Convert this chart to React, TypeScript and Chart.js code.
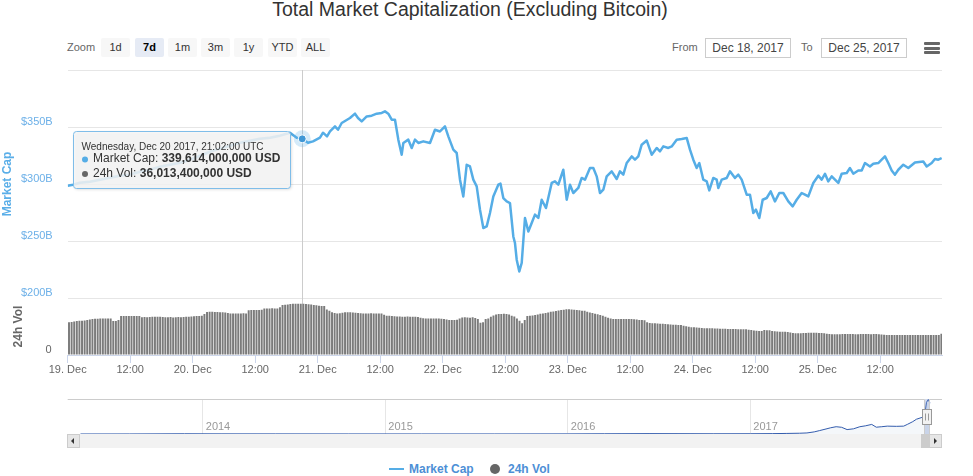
import React, { useEffect, useRef } from 'react';
import { Chart, registerables } from 'chart.js';

Chart.register(...registerables);

const FONT = '"Liberation Sans", Arial, Helvetica, sans-serif';
const LINE_COLOR = '#55ade6';
const AXIS_BLUE = '#6cb0e8';
const VOL_COLOR = '#7b7b7b';
const VOL_DOT = '#666666';

// ---- Main series: hours since 19 Dec 2017 00:00 UTC, market cap in billions USD
const MC_HOURS = [
  0, 1.02, 2.36, 4.28, 6.2, 8.12, 10.04, 11.96, 13.88, 15.8, 17.72, 19.64, 21.56, 23.48, 25.4, 27.32, 29.24,
  31.16, 33.08, 35.0, 36.92, 38.84, 40.76, 42.68, 43.97, 45.03, 46.14, 47.1, 48.44, 49.02, 49.79, 50.36, 51.32,
  51.9, 52.61, 54.2, 55.16, 55.74, 56.45, 57.41, 58.37, 59.33, 60.29, 60.92, 61.56, 62.21, 62.84, 63.48, 64.13,
  64.44, 65.4, 66.05, 66.68, 67.32, 68.28, 69.56, 70.52, 71.48, 72.44, 73.08, 74.04, 74.69, 75.32, 75.96, 76.61,
  77.24, 77.88, 78.53, 79.16, 79.8, 80.45, 81.08, 81.72, 82.68, 83.1, 83.64, 84.29, 84.92, 85.56, 85.88, 86.21,
  86.71, 87.17, 87.8, 88.44, 89.09, 89.72, 90.36, 91.01, 91.83, 92.93, 93.56, 94.2, 95.16, 95.81, 96.44, 97.08,
  98.04, 98.69, 99.32, 100.28, 100.92, 101.57, 102.2, 102.84, 103.49, 104.45, 105.41, 106.04, 106.68, 107.33,
  108.29, 108.92, 109.56, 110.21, 111.17, 112.13, 113.09, 113.72, 114.36, 115.32, 115.97, 116.93, 117.89, 118.85,
  119.48, 120.12, 120.77, 121.27, 122.04, 122.69, 123.19, 123.96, 124.61, 124.92, 125.57, 126.53, 127.16, 128.12,
  128.76, 129.41, 130.37, 131.0, 131.64, 132.15, 132.79, 133.44, 134.21, 134.98, 135.8, 136.63, 137.4, 138.36,
  139.2, 139.97, 140.93, 141.56, 142.2, 143.16, 144.12, 144.77, 145.4, 146.04, 146.69, 147.32, 147.96, 148.61,
  149.57, 150.2, 150.84, 151.8, 152.45, 153.08, 154.04, 154.68, 155.64, 156.29, 156.92, 157.56, 158.21, 158.84,
  159.48, 160.44, 161.4, 162.68, 164.28, 164.93, 165.89, 166.52, 167.16, 167.81,
];
const MC_VALUES = [
  298.5, 299.4, 301.1, 302.0, 303.8, 305.5, 307.3, 308.2, 310.8, 312.5, 315.2, 316.9, 318.7, 321.3, 324.8, 328.3, 331.0,
  333.6, 336.2, 338.0, 339.7, 340.6, 342.4, 345.0, 340.6, 339.6, 336.2, 337.4, 340.6, 345.0, 341.8, 346.1, 350.5,
  347.6, 353.5, 357.9, 361.7, 357.9, 354.9, 359.3, 359.9, 361.7, 362.3, 363.7, 361.7, 356.4, 356.4, 338.9, 325.7,
  336.0, 338.9, 331.6, 338.9, 336.0, 337.4, 336.0, 347.6, 346.1, 350.5, 341.8, 330.1, 327.2, 303.8, 289.1, 316.9,
  315.4, 303.8, 297.9, 277.5, 261.4, 262.8, 274.6, 289.1, 299.4, 300.3, 287.7, 284.7, 283.3, 254.0, 248.2, 233.6,
  223.3, 230.7, 270.2, 258.4, 265.8, 273.1, 270.2, 286.2, 278.9, 300.9, 302.3, 299.4, 312.5, 286.2, 299.4, 292.1,
  296.5, 305.3, 303.8, 314.0, 314.0, 306.7, 292.1, 295.0, 306.7, 311.1, 304.4, 311.1, 308.2, 318.4,
  324.2, 321.3, 324.2, 334.5, 338.2, 325.7, 331.6, 328.6, 333.0, 331.6, 333.0, 338.9, 339.5, 340.4,
  330.1, 321.3, 314.0, 318.4, 303.8, 302.3, 294.4, 305.3, 303.8, 296.5, 303.8, 305.3, 311.1, 305.3,
  308.2, 303.8, 290.6, 290.6, 274.6, 277.5, 270.2, 286.2, 287.7, 293.5, 284.7, 292.1, 292.1, 284.7,
  280.4, 286.2, 292.1, 290.6, 289.1, 300.9, 307.3, 303.8, 309.0, 302.3, 306.7, 303.8, 300.9, 309.0,
  309.6, 314.0, 309.0, 311.9, 311.9, 318.4, 315.4, 317.8, 318.4, 321.3, 324.2, 318.4, 311.9, 308.2,
  312.5, 316.9, 314.0, 318.9, 319.8, 315.4, 318.4, 321.9, 321.3, 322.8,
];

// ---- 24h volume in billions USD, one bar every 30 minutes from 19 Dec 00:00 UTC
const VOL_STEP_HOURS = 0.5;
const VOL_VALUES = [
  22.9, 23.2, 23.5, 23.8, 24.0, 24.1, 24.2, 24.6, 25.0, 25.3, 25.4, 25.5,
  25.6, 25.6, 25.7, 25.7, 25.6, 23.9, 23.9, 24.5, 27.4, 27.4, 27.4, 27.3,
  27.4, 27.3, 27.4, 27.4, 26.5, 26.6, 26.5, 26.7, 26.9, 26.9, 26.8, 26.9,
  26.7, 26.5, 26.5, 26.6, 26.4, 26.5, 26.7, 26.5, 26.6, 26.8, 26.9, 27.0,
  27.2, 27.3, 27.4, 27.5, 28.8, 30.2, 30.4, 30.4, 30.2, 30.1, 30.0, 30.0,
  29.8, 29.4, 29.2, 29.2, 29.1, 29.2, 29.2, 29.3, 29.2, 31.4, 31.6, 31.6,
  31.6, 31.6, 31.7, 32.6, 32.7, 32.7, 32.8, 32.7, 32.7, 33.5, 35.1, 35.3,
  35.5, 35.8, 35.9, 36.0, 35.9, 35.9, 36.0, 35.8, 35.6, 35.4, 35.1, 34.9,
  34.6, 34.4, 34.3, 32.0, 31.1, 30.0, 29.4, 29.2, 29.3, 29.6, 30.0, 30.0,
  30.0, 29.9, 29.6, 29.4, 29.3, 29.2, 29.2, 29.2, 29.3, 29.2, 29.2, 29.2,
  29.1, 28.2, 27.6, 27.6, 27.4, 27.2, 27.0, 27.1, 26.9, 26.9, 27.0, 26.8,
  26.9, 26.8, 26.6, 26.2, 25.8, 25.7, 25.7, 25.6, 25.7, 25.7, 25.6, 25.5,
  25.2, 24.9, 24.6, 24.6, 24.5, 24.7, 25.6, 26.3, 26.5, 26.4, 26.2, 26.5,
  26.0, 25.3, 22.7, 22.9, 25.2, 25.7, 26.8, 27.8, 28.5, 28.8, 28.8, 29.0,
  28.8, 28.5, 27.6, 27.0, 25.7, 24.0, 22.2, 24.5, 27.4, 27.6, 27.8, 28.1,
  28.5, 28.9, 29.2, 29.4, 29.8, 30.4, 30.6, 30.8, 31.2, 31.5, 31.8, 32.1,
  32.1, 31.9, 31.7, 31.5, 31.4, 31.1, 31.0, 30.3, 29.8, 29.5, 29.0, 28.6,
  28.1, 27.5, 26.8, 26.2, 25.6, 25.3, 25.3, 25.3, 25.2, 25.3, 25.3, 25.2,
  25.3, 25.1, 24.9, 24.6, 24.6, 24.3, 23.0, 22.4, 22.2, 22.2, 22.1, 22.0,
  21.9, 21.8, 21.6, 21.4, 21.3, 21.2, 21.1, 21.0, 20.5, 20.2, 19.8, 19.5,
  19.4, 19.3, 19.1, 18.9, 18.8, 18.7, 18.7, 18.7, 18.6, 18.6, 18.5, 18.5,
  18.4, 18.3, 18.3, 18.2, 18.2, 18.1, 18.1, 18.0, 18.0, 17.8, 17.5, 17.2,
  17.0, 16.8, 16.8, 17.5, 17.4, 17.3, 16.9, 16.6, 16.5, 16.4, 16.4, 16.3,
  16.1, 15.8, 15.5, 15.3, 15.2, 15.2, 15.4, 15.5, 15.6, 15.7, 15.7, 15.6,
  15.5, 15.4, 15.3, 15.0, 14.8, 14.6, 14.5, 14.5, 14.6, 14.7, 14.7, 14.7,
  14.7, 14.7, 14.6, 14.6, 14.7, 14.7, 14.7, 14.7, 14.6, 14.7, 14.7, 14.6,
  14.4, 14.2, 14.0, 14.0, 14.0, 14.0, 14.0, 14.0, 14.0, 14.0, 14.0, 14.0,
  14.0, 14.0, 14.0, 14.0, 14.0, 14.0, 14.0, 14.0, 14.0, 14.0, 14.1, 14.9,
];

// ---- Axes
const X_MAX_HOURS = 167.87;
const X_TICK_HOURS = [0, 12, 24, 36, 48, 60, 72, 84, 96, 108, 120, 132, 144, 156];
const X_TICK_LABELS = ['19. Dec', '12:00', '20. Dec', '12:00', '21. Dec', '12:00', '22. Dec', '12:00', '23. Dec', '12:00', '24. Dec', '12:00', '25. Dec', '12:00'];
const MC_TICKS = [200, 250, 300, 350, 400];
const MC_TICK_LABELS = ['$200B', '$250B', '$300B', '$350B', ''];
const VOL_TICKS = [0, 40];
const VOL_TICK_LABELS = ['0', ''];

// ---- Hovered point shown in the tooltip
const HOVER_HOUR = 45.03;
const HOVER_HEADER = 'Wednesday, Dec 20 2017, 21:02:00 UTC';
const HOVER_MC = 339614000000;
const HOVER_VOL = 36013400000;

// ---- Navigator (whole history), decimal years vs billions USD
const NAV_YEARS = [
  2013.33, 2013.6, 2013.9, 2014.1, 2014.4, 2014.8, 2015.2, 2015.6, 2016.0, 2016.2, 2016.45, 2016.8, 2017.0,
  2017.12, 2017.2, 2017.27, 2017.31, 2017.35, 2017.38, 2017.42, 2017.44, 2017.47, 2017.5, 2017.53, 2017.565,
  2017.6, 2017.63, 2017.665, 2017.69, 2017.72, 2017.75, 2017.8, 2017.84, 2017.86, 2017.89, 2017.91, 2017.94,
  2017.95, 2017.96, 2017.965, 2017.975, 2017.984,
];
const NAV_VALUES = [
  0.3, 0.5, 2.5, 1.5, 1.2, 0.8, 0.6, 0.6, 1.2, 2.5, 4, 2.5, 2.8,
  4, 6, 8, 11, 22, 36, 55, 65, 76, 70, 46, 54,
  76, 85, 100, 71, 76, 82, 80, 82, 100, 129, 154, 173,
  179, 260, 330, 360, 322,
];
const NAV_MIN_YEAR = 2013.26;
const NAV_MAX_YEAR = 2018.05;
const NAV_TICK_YEARS = [2014, 2015, 2016, 2017];
const NAV_TICK_LABELS = ['2014', '2015', '2016', '2017'];
const NAV_RANGE = [2017.954, 2017.98];

const ZOOM_BUTTONS = ['1d', '7d', '1m', '3m', '1y', 'YTD', 'ALL'];
const ZOOM_SELECTED = '7d';
const FROM_DATE = 'Dec 18, 2017';
const TO_DATE = 'Dec 25, 2017';

function roundRectPath(ctx: CanvasRenderingContext2D, x: number, y: number, w: number, h: number, r: number) {
  ctx.beginPath();
  ctx.moveTo(x + r, y);
  ctx.lineTo(x + w - r, y);
  ctx.arcTo(x + w, y, x + w, y + r, r);
  ctx.lineTo(x + w, y + h - r);
  ctx.arcTo(x + w, y + h, x + w - r, y + h, r);
  ctx.lineTo(x + r, y + h);
  ctx.arcTo(x, y + h, x, y + h - r, r);
  ctx.lineTo(x, y + r);
  ctx.arcTo(x, y, x + r, y, r);
  ctx.closePath();
}

function drawRow(ctx: CanvasRenderingContext2D, x: number, y: number, dot: string, label: string, value: string) {
  ctx.fillStyle = dot;
  ctx.beginPath();
  ctx.arc(x + 11.5, y + 0.5, 3, 0, Math.PI * 2);
  ctx.fill();
  ctx.fillStyle = '#333333';
  ctx.font = `12px ${FONT}`;
  ctx.fillText(label, x + 19.5, y);
  const lw = ctx.measureText(label).width;
  ctx.font = `bold 12px ${FONT}`;
  ctx.fillText(value, x + 19.5 + lw, y);
}

const hoverPlugin = {
  id: 'hoverState',
  beforeDatasetsDraw(chart: any) {
    const { ctx, chartArea, scales } = chart;
    const x = Math.round(scales.x.getPixelForValue(HOVER_HOUR)) + 0.5;
    ctx.save();
    ctx.strokeStyle = '#cccccc';
    ctx.lineWidth = 1;
    ctx.beginPath();
    ctx.moveTo(x, chartArea.top);
    ctx.lineTo(x, chartArea.bottom);
    ctx.stroke();
    ctx.restore();
  },
  afterDraw(chart: any) {
    const { ctx, scales } = chart;
    const px = scales.x.getPixelForValue(HOVER_HOUR);
    const py = scales.y.getPixelForValue(HOVER_MC / 1e9);
    ctx.save();
    ctx.fillStyle = 'rgba(85,173,230,0.25)';
    ctx.beginPath();
    ctx.arc(px, py, 8.5, 0, Math.PI * 2);
    ctx.fill();
    ctx.fillStyle = '#3f97d6';
    ctx.strokeStyle = '#ffffff';
    ctx.lineWidth = 1;
    ctx.beginPath();
    ctx.arc(px, py, 4, 0, Math.PI * 2);
    ctx.fill();
    ctx.stroke();
    const w = 217;
    const h = 57;
    const bx = Math.round(px - 12 - w) + 0.5;
    const by = Math.round(py - 8) + 0.5;
    ctx.shadowColor = 'rgba(0,0,0,0.18)';
    ctx.shadowBlur = 3;
    ctx.shadowOffsetX = 1;
    ctx.shadowOffsetY = 1;
    roundRectPath(ctx, bx, by, w, h, 3);
    ctx.fillStyle = 'rgba(247,247,247,0.85)';
    ctx.fill();
    ctx.shadowColor = 'transparent';
    ctx.strokeStyle = '#7fbde9';
    ctx.lineWidth = 1;
    ctx.stroke();
    ctx.textBaseline = 'middle';
    ctx.textAlign = 'left';
    ctx.fillStyle = '#333333';
    ctx.font = `10px ${FONT}`;
    ctx.fillText(HOVER_HEADER, bx + 8, by + 16);
    drawRow(ctx, bx, by + 27.5, LINE_COLOR, 'Market Cap: ', HOVER_MC.toLocaleString('en-US') + ' USD');
    drawRow(ctx, bx, by + 42, VOL_DOT, '24h Vol: ', HOVER_VOL.toLocaleString('en-US') + ' USD');
    ctx.restore();
  },
};

const navPlugin = {
  id: 'navDecor',
  afterDatasetsDraw(chart: any) {
    const { ctx, chartArea: a, scales } = chart;
    const x0 = scales.x.getPixelForValue(NAV_RANGE[0]);
    const x1 = scales.x.getPixelForValue(NAV_RANGE[1]);
    ctx.save();
    ctx.fillStyle = 'rgba(102,133,194,0.3)';
    ctx.fillRect(x0, a.top, x1 - x0, a.bottom - a.top);
    ctx.strokeStyle = '#cccccc';
    ctx.lineWidth = 1;
    ctx.beginPath();
    ctx.moveTo(a.left, a.top + 0.5);
    ctx.lineTo(Math.round(x0) + 0.5, a.top + 0.5);
    ctx.lineTo(Math.round(x0) + 0.5, a.bottom);
    ctx.moveTo(Math.round(x1) + 0.5, a.bottom);
    ctx.lineTo(Math.round(x1) + 0.5, a.top + 0.5);
    ctx.lineTo(a.right, a.top + 0.5);
    ctx.stroke();
    const mid = (x0 + x1) / 2;
    const hx = Math.round(mid - 4.5) + 0.5;
    const hy = Math.round((a.top + a.bottom) / 2 - 7.5) + 0.5;
    ctx.fillStyle = '#f2f2f2';
    ctx.strokeStyle = '#999999';
    ctx.fillRect(hx, hy, 9, 15);
    ctx.strokeRect(hx, hy, 9, 15);
    ctx.beginPath();
    ctx.moveTo(hx + 3, hy + 4);
    ctx.lineTo(hx + 3, hy + 11);
    ctx.moveTo(hx + 6, hy + 4);
    ctx.lineTo(hx + 6, hy + 11);
    ctx.stroke();
    ctx.restore();
  },
};

function abs(left: number, top: number, width?: number, height?: number): React.CSSProperties {
  const s: React.CSSProperties = { position: 'absolute', left, top };
  if (width !== undefined) s.width = width;
  if (height !== undefined) s.height = height;
  return s;
}

export default function App() {
  const mainRef = useRef<HTMLCanvasElement>(null);
  const navRef = useRef<HTMLCanvasElement>(null);

  useEffect(() => {
    const main = new Chart(mainRef.current as HTMLCanvasElement, {
      type: 'line',
      data: {
        datasets: [
          {
            type: 'line',
            label: 'Market Cap',
            data: MC_HOURS.map((h, i) => ({ x: h, y: MC_VALUES[i] })),
            xAxisID: 'x',
            yAxisID: 'y',
            borderColor: LINE_COLOR,
            borderWidth: 2.5,
            borderJoinStyle: 'round',
            pointRadius: 0,
            pointHoverRadius: 0,
            tension: 0,
            fill: false,
            order: 0,
          } as any,
          {
            type: 'bar',
            label: '24h Vol',
            data: VOL_VALUES.map((v, i) => ({ x: i * VOL_STEP_HOURS + VOL_STEP_HOURS / 2, y: v })),
            xAxisID: 'x',
            yAxisID: 'y1',
            backgroundColor: VOL_COLOR,
            borderWidth: 0,
            barPercentage: 0.75,
            categoryPercentage: 1,
            order: 1,
          } as any,
        ],
      },
      options: {
        responsive: false,
        animation: false,
        devicePixelRatio: 1,
        events: [],
        layout: { padding: { top: 10, left: 0, right: 31, bottom: 0 } },
        plugins: { legend: { display: false }, tooltip: { enabled: false } },
        scales: {
          x: {
            type: 'linear',
            position: 'bottom',
            min: 0,
            max: X_MAX_HOURS,
            offset: false,
            afterBuildTicks: (s: any) => { s.ticks = X_TICK_HOURS.map((v) => ({ value: v })); },
            afterFit: (s: any) => { s.height = 30; },
            ticks: {
              autoSkip: false,
              maxRotation: 0,
              padding: 0,
              color: '#666666',
              font: { family: FONT, size: 11 },
              callback: (_v: any, i: number) => X_TICK_LABELS[i] ?? '',
            },
            grid: { offset: false, drawOnChartArea: false, drawTicks: true, tickLength: 8, color: '#ccd6eb' },
            border: { display: true, color: '#ccd6eb' },
          },
          y: {
            type: 'linear',
            position: 'left',
            stack: 'panes',
            stackWeight: 4,
            weight: 2,
            min: 200,
            max: 400,
            afterBuildTicks: (s: any) => { s.ticks = MC_TICKS.map((v) => ({ value: v })); },
            afterFit: (s: any) => { s.width = 67.7; },
            ticks: {
              color: AXIS_BLUE,
              font: { family: FONT, size: 11 },
              padding: 0,
              labelOffset: -5,
              callback: (_v: any, i: number) => MC_TICK_LABELS[i] ?? '',
            },
            grid: { color: '#e6e6e6', drawTicks: true, tickLength: 15, tickColor: 'rgba(0,0,0,0)' },
            border: { display: false },
            title: {
              display: true,
              text: 'Market Cap',
              color: '#5aaee8',
              font: { family: FONT, size: 12, weight: 'bold' },
              padding: { top: 0, bottom: 0 },
            },
          },
          y1: {
            type: 'linear',
            position: 'left',
            stack: 'panes',
            stackWeight: 1,
            weight: 1,
            min: 0,
            max: 40,
            afterBuildTicks: (s: any) => { s.ticks = VOL_TICKS.map((v) => ({ value: v })); },
            afterFit: (s: any) => { s.width = 67.7; },
            ticks: {
              color: '#666666',
              font: { family: FONT, size: 11 },
              padding: 0,
              labelOffset: -5,
              callback: (_v: any, i: number) => VOL_TICK_LABELS[i] ?? '',
            },
            grid: { color: '#e6e6e6', drawTicks: true, tickLength: 16, tickColor: 'rgba(0,0,0,0)' },
            border: { display: false },
            title: {
              display: true,
              text: '24h Vol',
              color: '#666666',
              font: { family: FONT, size: 12, weight: 'bold' },
              padding: { top: 11, bottom: 0 },
            },
          },
        },
      } as any,
      plugins: [hoverPlugin],
    });

    const nav = new Chart(navRef.current as HTMLCanvasElement, {
      type: 'line',
      data: {
        datasets: [
          {
            data: NAV_YEARS.map((x, i) => ({ x, y: NAV_VALUES[i] })),
            borderColor: '#335cad',
            borderWidth: 1,
            pointRadius: 0,
            tension: 0,
            fill: 'origin',
            backgroundColor: 'rgba(69,114,167,0.06)',
          } as any,
        ],
      },
      options: {
        responsive: false,
        animation: false,
        devicePixelRatio: 1,
        events: [],
        layout: { padding: { top: 9, left: 67.7, right: 31, bottom: 0 } },
        plugins: { legend: { display: false }, tooltip: { enabled: false } },
        scales: {
          x: {
            type: 'linear',
            min: NAV_MIN_YEAR,
            max: NAV_MAX_YEAR,
            afterBuildTicks: (s: any) => { s.ticks = NAV_TICK_YEARS.map((v) => ({ value: v })); },
            afterFit: (s: any) => { s.height = 0; },
            ticks: {
              mirror: true,
              align: 'start',
              labelOffset: 3,
              padding: 0,
              autoSkip: false,
              maxRotation: 0,
              color: '#999999',
              font: { family: FONT, size: 11 },
              callback: (_v: any, i: number) => NAV_TICK_LABELS[i] ?? '',
            },
            grid: { color: '#e6e6e6', drawTicks: false },
            border: { display: false },
          },
          y: { display: false, min: 0, max: 365 },
        },
      } as any,
      plugins: [navPlugin],
    });

    return () => {
      main.destroy();
      nav.destroy();
    };
  }, []);

  const btnLefts = [101, 135, 168, 201, 234, 268, 301];

  return (
    <div style={{ position: 'absolute', left: 0, top: 0, width: 973, height: 476, overflow: 'hidden', background: '#ffffff', fontFamily: FONT }}>
      <div style={{ ...abs(0, -2, 940, 22), textAlign: 'center', fontSize: 19.5, lineHeight: '22px', color: '#333333' }}>
        Total Market Capitalization (Excluding Bitcoin)
      </div>

      <div style={{ ...abs(67, 38, 32, 19), fontSize: 11, lineHeight: '19px', color: '#666666' }}>Zoom</div>
      {ZOOM_BUTTONS.map((b, i) => {
        const sel = b === ZOOM_SELECTED;
        return (
          <div
            key={b}
            style={{
              ...abs(btnLefts[i], 38, 29, 19),
              background: sel ? '#e6ebf5' : '#f7f7f7',
              borderRadius: 2,
              textAlign: 'center',
              fontSize: 11,
              lineHeight: '19px',
              color: sel ? '#000000' : '#333333',
              fontWeight: sel ? 'bold' : 'normal',
            }}
          >
            {b}
          </div>
        );
      })}

      <div style={{ ...abs(672, 38, 30, 19), fontSize: 11, lineHeight: '19px', color: '#666666' }}>From</div>
      <div style={{ ...abs(705, 38, 86, 20), boxSizing: 'border-box', border: '1px solid #cccccc', textAlign: 'center', fontSize: 12, lineHeight: '18px', color: '#444444' }}>
        {FROM_DATE}
      </div>
      <div style={{ ...abs(801, 38, 16, 19), fontSize: 11, lineHeight: '19px', color: '#666666' }}>To</div>
      <div style={{ ...abs(821, 38, 86, 20), boxSizing: 'border-box', border: '1px solid #cccccc', textAlign: 'center', fontSize: 12, lineHeight: '18px', color: '#444444' }}>
        {TO_DATE}
      </div>
      {[42, 46.5, 51].map((t) => (
        <div key={t} style={{ ...abs(924, t, 16, 3), background: '#666666', borderRadius: 1 }} />
      ))}

      <canvas ref={mainRef} width={973} height={325} style={{ ...abs(0, 60, 973, 325) }} />
      <canvas ref={navRef} width={973} height={44} style={{ ...abs(0, 390, 973, 44) }} />

      {/* scrollbar */}
      <div style={{ ...abs(67, 434, 875, 14), background: '#f2f2f2' }} />
      <div style={{ ...abs(67, 434, 13, 14), background: '#e6e6e6', boxSizing: 'border-box', border: '1px solid #cccccc' }}>
        <div style={{ position: 'absolute', left: 3, top: 3, width: 0, height: 0, borderTop: '3px solid transparent', borderBottom: '3px solid transparent', borderRight: '3px solid #333333' }} />
      </div>
      <div style={{ ...abs(921, 434, 8, 14), background: '#cccccc' }} />
      <div style={{ ...abs(929, 434, 13, 14), background: '#e6e6e6', boxSizing: 'border-box', border: '1px solid #cccccc' }}>
        <div style={{ position: 'absolute', left: 4, top: 3, width: 0, height: 0, borderTop: '3px solid transparent', borderBottom: '3px solid transparent', borderLeft: '3px solid #333333' }} />
      </div>

      {/* legend */}
      <div style={{ ...abs(389, 468, 15, 2), background: LINE_COLOR }} />
      <div style={{ ...abs(409, 462, 70, 14), fontSize: 12, lineHeight: '14px', fontWeight: 'bold', color: '#4d8fd6', whiteSpace: 'nowrap' }}>Market Cap</div>
      <div style={{ ...abs(490, 464, 10, 10), background: VOL_DOT, borderRadius: 5 }} />
      <div style={{ ...abs(508, 462, 60, 14), fontSize: 12, lineHeight: '14px', fontWeight: 'bold', color: '#4d8fd6', whiteSpace: 'nowrap' }}>24h Vol</div>
    </div>
  );
}
